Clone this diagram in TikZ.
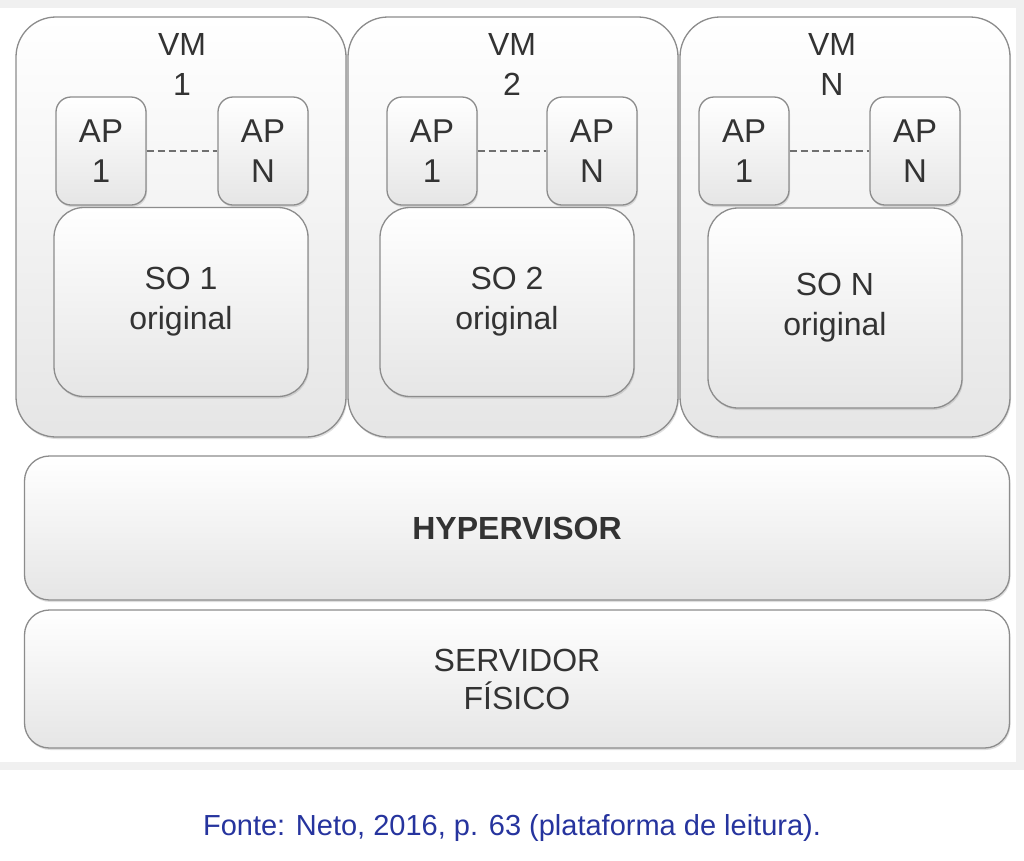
\documentclass[tikz,border=0pt]{standalone}
\usepackage{fontspec}
\setmainfont{Liberation Sans}
\usetikzlibrary{positioning,shadows}
\definecolor{fontecol}{RGB}{38,52,158}
\definecolor{boxline}{RGB}{140,140,140}

\begin{document}
\begin{tikzpicture}[x=1pt,y=-1pt]
	\tikzset{box/.style = {draw=boxline,line width=1.3pt,top color=white,bottom color=gray!20,
		drop shadow={shadow xshift=1pt,shadow yshift=-2pt,opacity=0.25},
		inner sep=0pt,text=black!80,align=center}}
	\tikzset{vmbox/.style = {box,rounded corners=40pt,minimum width=330pt,minimum height=420pt}}
	\tikzset{apbox/.style = {box,rounded corners=15pt,minimum width=90pt,minimum height=108pt,
		font=\fontsize{33}{40}\selectfont}}
	\tikzset{sobox/.style = {box,rounded corners=30pt,minimum width=254pt,minimum height=189pt,
		font=\fontsize{32}{40}\selectfont}}
	\tikzset{layer/.style = {box,rounded corners=25pt,minimum width=985pt}}
	\tikzset{lbl/.style = {text=black!80,align=center,font=\fontsize{32}{40}\selectfont}}
	\useasboundingbox[fill=white] (0,0) rectangle (1024,860);
	\draw[gray!12,line width=8pt] (0,4) -- (1020,4) -- (1020,766) -- (0,766);
	% virtual machines
	\node[vmbox] (vm1) at (181,227) {};
	\node[vmbox] (vm2) at (513,227) {};
	\node[vmbox] (vmn) at (845,227) {};
	\node[lbl] (vm1l) at (182,64) {VM\\1};
	\node[lbl] (vm2l) at (512,64) {VM\\2};
	\node[lbl] (vmnl) at (832,64) {VM\\N};
	% applications
	\node[apbox] (ap11) at (101,151) {AP\\1};
	\node[apbox] (ap1n) at (263,151) {AP\\N};
	\node[apbox] (ap21) at (432,151) {AP\\1};
	\node[apbox] (ap2n) at (592,151) {AP\\N};
	\node[apbox] (apn1) at (744,151) {AP\\1};
	\node[apbox] (apnn) at (915,151) {AP\\N};
	% operating systems
	\node[sobox] (so1) at (181,302) {SO 1\\original};
	\node[sobox] (so2) at (507,302) {SO 2\\original};
	\node[sobox,minimum height=200pt] (son) at (835,308) {SO N\\original};
	%dashes
	\draw[dashed,boxline!80!black,line width=1.3pt,dash pattern=on 7pt off 4pt] (ap11) -- (ap1n);
	\draw[dashed,boxline!80!black,line width=1.3pt,dash pattern=on 7pt off 4pt] (ap21) -- (ap2n);
	\draw[dashed,boxline!80!black,line width=1.3pt,dash pattern=on 7pt off 4pt] (apn1) -- (apnn);
	% layers
	\node[layer,minimum height=144pt,font=\bfseries\fontsize{32}{40}\selectfont] (hyp) at (517,528) {HYPERVISOR};
	\node[layer,minimum height=138pt,font=\fontsize{32}{38}\selectfont] (srv) at (517,679) {SERVIDOR\\FÍSICO};
	% caption
	\node[text=fontecol,font=\fontsize{29}{30}\selectfont] (fonte) at (512,828) {Fonte: Neto, 2016, p. 63 (plataforma de leitura).};
\end{tikzpicture}
\end{document}
